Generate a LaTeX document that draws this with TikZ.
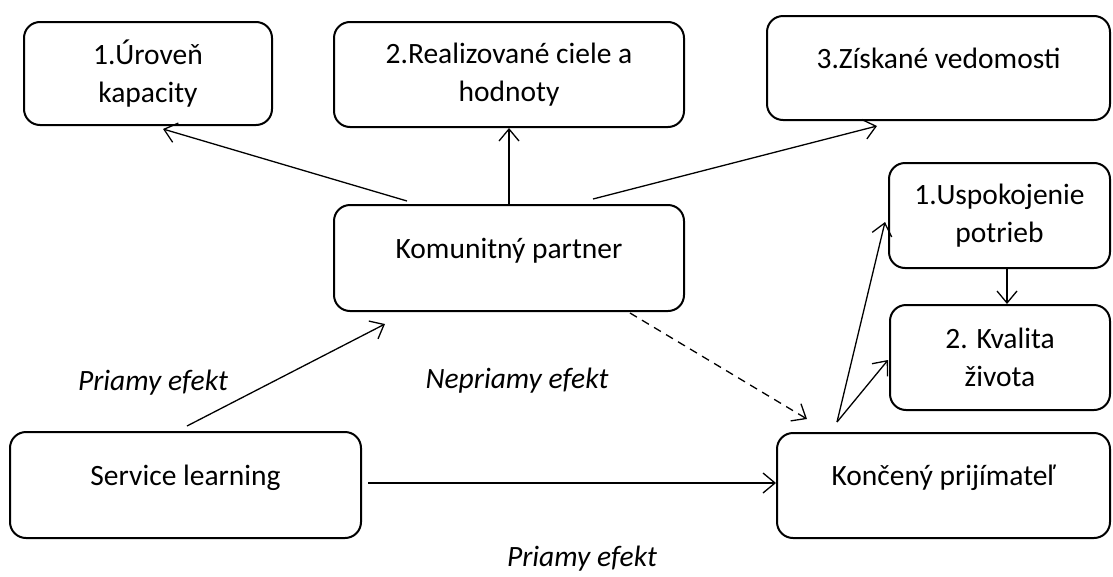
\documentclass[tikz,border=0pt]{standalone}
\usepackage{fontspec}
\setmainfont{Carlito}
\usetikzlibrary{arrows.meta}
\begin{document}
\begin{tikzpicture}[x=1pt, y=-1pt,
    box/.style={draw, line width=2pt, rounded corners=16pt, align=center,
        font=\fontsize{29.5}{38}\selectfont, inner sep=0pt},
    arr/.style={line width=1.3pt, -{Straight Barb[length=12pt, width=20pt, line width=1.3pt]}},
    lbl/.style={font=\fontsize{29.5}{34}\selectfont\itshape, anchor=base}]
    \useasboundingbox (0,0) rectangle (1113,576);

    % Draw nodes
    \node[box, minimum width=248pt, minimum height=103pt] (A) at (148, 73.5) {1.Úroveň\\kapacity};
    \node[box, minimum width=350pt, minimum height=105pt] (B) at (509, 74.5) {2.Realizované ciele a\\hodnoty};
    \node[box, minimum width=343pt, minimum height=104pt] (C) at (938.5, 68) {3.Získané vedomosti\\[-18pt]\mbox{}};
    \node[box, minimum width=350pt, minimum height=106pt] (D) at (509, 258) {Komunitný partner\\[-18pt]\mbox{}};
    \node[box, minimum width=221pt, minimum height=105pt] (E) at (999.5, 215.5) {1.Uspokojenie\\potrieb};
    \node[box, minimum width=220pt, minimum height=105pt] (F) at (1000, 357.5) {2. Kvalita\\života};
    \node[box, minimum width=351pt, minimum height=106pt] (G) at (185.5, 485) {Service learning\\[-18pt]\mbox{}};
    \node[box, minimum width=333pt, minimum height=105pt] (H) at (943.5, 485.5) {Končený prijímateľ\\[-18pt]\mbox{}};

    % Labels
    \node[lbl] (p1) at (153, 390) {Priamy efekt};
    \node[lbl] (p2) at (517, 388) {Nepriamy efekt};
    \node[lbl] (p3) at (582, 566) {Priamy efekt};

    % Draw edges
    \draw[arr] ([xshift=-102pt, yshift=3pt]D.north) -- ([xshift=15pt, yshift=-3pt]A.south);
    \draw[arr] (D.north) -- (B.south);
    \draw[arr] ([xshift=84pt, yshift=5pt]D.north) -- ([xshift=-61.5pt, yshift=-5pt]C.south);
    \draw[arr] ([xshift=1.5pt, yshift=5pt]G.north) -- ([xshift=-124pt, yshift=-12pt]D.south);
    \draw[arr, dash pattern=on 8pt off 6pt] ([xshift=121pt, yshift=-1pt]D.south) -- ([xshift=-136.5pt, yshift=13pt]H.north);
    \coordinate (Hs) at ([xshift=-106.5pt, yshift=10pt]H.north);
    \draw[arr] (Hs) -- ([xshift=-3pt, yshift=-6.5pt]E.west);
    \draw[arr] (Hs) -- ([xshift=-1pt, yshift=-2.5pt]F.west);
    \draw[arr] ([xshift=7.5pt]E.south) -- ([xshift=7pt]F.north);
    \draw[arr] ([xshift=6pt, yshift=2pt]G.east) -- ([yshift=2.5pt]H.west);
\end{tikzpicture}
\end{document}
